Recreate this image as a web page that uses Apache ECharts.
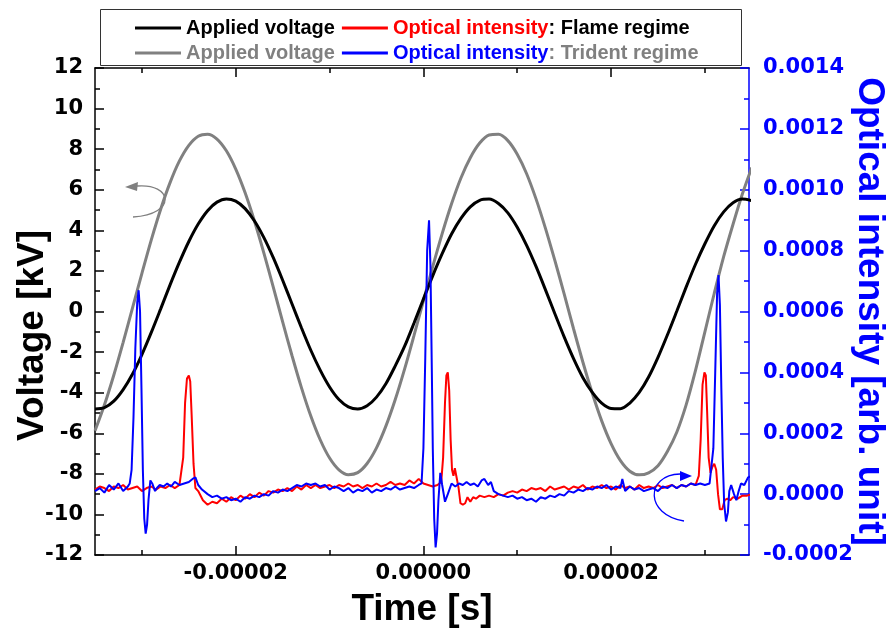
<!DOCTYPE html>
<html>
<head>
<meta charset="utf-8">
<script src="https://cdn.jsdelivr.net/npm/echarts@6/dist/echarts.min.js"></script>
<style>
  html, body { margin: 0; padding: 0; background: #fff; }
  #chart { width: 891px; height: 633px; }
</style>
</head>
<body>
<div id="chart"></div>
<script>
// time in microseconds, voltage in kV
const timeV = [-35,-34,-33,-32,-31,-30,-29,-28,-27,-26,-25,-24,-23,-22,-21,-20,-19,-18,-17,-16,-15,-14,-13,-12,-11,-10,-9,-8,-7,-6,-5,-4,-3,-2,-1,0,1,2,3,4,5,6,7,8,9,10,11,12,13,14,15,16,17,18,19,20,21,22,23,24,25,26,27,28,29,30,31,32,33,34,35];

const voltFlame = [-4.80,-4.74,-4.42,-3.85,-3.08,-2.12,-1.03,0.13,1.31,2.43,3.45,4.31,4.97,5.39,5.55,
  5.44,5.07,4.46,3.64,2.65,1.54,0.37,-0.80,-1.91,-2.89,-3.72,-4.34,-4.70,-4.81,-4.65,
  -4.22,-3.56,-2.68,-1.71,-0.57,0.61,1.77,2.85,3.82,4.59,5.16,5.48,5.54,5.32,4.86,
  4.15,3.26,2.22,1.08,-0.10,-1.25,-2.32,-3.26,-3.99,-4.52,-4.78,-4.79,-4.51,-3.99,-3.23,
  -2.26,-1.16,0.01,1.20,2.33,3.34,4.23,4.91,5.36,5.54,5.46];

const voltTrident = [-5.88,-4.61,-3.14,-1.52,0.18,1.88,3.53,5.04,6.35,7.42,8.19,8.64,8.74,8.50,7.92,
  7.02,5.85,4.45,2.88,1.20,-0.51,-2.18,-3.75,-5.15,-6.32,-7.22,-7.80,-8.04,-7.94,-7.49,
  -6.72,-5.65,-4.34,-2.83,-1.18,0.52,2.22,3.84,5.31,6.58,7.58,8.30,8.70,8.73,8.42,
  7.75,6.79,5.55,4.11,2.53,0.87,-0.85,-2.50,-4.03,-5.39,-6.51,-7.35,-7.87,-8.05,-7.95,
  -7.6,-6.9,-5.95,-4.6,-2.9,-1.0,0.9,2.7,4.3,5.8,7.1];

// [time us, optical intensity x1e-4]
const optFlame = [[-35,0.15],[-34.5,0.25],[-34,0.2],[-33.5,0.1],[-33,0.25],[-32.5,0.2],[-32,0.3],[-31.5,0.15],[-31,0.2],[-30.5,0.25],[-30,0.1],[-29.5,0.2],[-29,0.25],[-28.5,0.15],[-28,0.25],[-27.5,0.2],[-27,0.3],[-26.5,0.2],[-26,0.3],
  [-25.9,0.3],[-25.6,1.2],[-25.4,3.0],[-25.2,3.8],[-25.0,3.9],[-24.85,3.7],[-24.7,2.6],[-24.5,1.0],[-24.3,0.2],[-24,0.1],[-23.5,-0.2],[-23,-0.35],[-22.5,-0.25],[-22,-0.3],[-21.5,-0.15],[-21,-0.25],[-20.5,-0.1],[-20,-0.2],[-19.5,-0.05],[-19,-0.15],[-18.5,0],[-18,-0.1],[-17.5,0.05],[-17,-0.05],[-16.5,0.1],[-16,0.05],[-15.5,0.15],[-15,0.1],[-14.5,0.2],[-14,0.1],[-13.5,0.25],[-13,0.15],[-12.5,0.3],[-12,0.2],[-11.5,0.3],[-11,0.2],[-10.5,0.25],[-10,0.3],[-9.5,0.2],[-9,0.3],[-8.5,0.25],[-8,0.35],[-7.5,0.25],[-7,0.3],[-6.5,0.2],[-6,0.3],[-5.5,0.25],[-5,0.35],[-4.5,0.25],[-4,0.3],[-3.5,0.4],[-3,0.3],[-2.5,0.35],[-2,0.3],[-1.5,0.45],[-1,0.35],[-0.5,0.5],[0,0.35],[0.5,0.3],[1,0.25],[1.5,0.3],[1.9,0.4],
  [2.1,1.2],[2.3,3.0],[2.45,3.9],[2.6,4.0],[2.75,3.4],[2.9,1.8],[3.05,0.8],[3.2,0.6],[3.35,0.85],[3.55,0.8],[3.75,0.2],[3.95,-0.3],[4.2,-0.35],[4.45,-0.3],[4.7,-0.1],[5,-0.25],[5.3,-0.1],[5.6,-0.15],[6,-0.05],[6.5,-0.1],[7,-0.05],[7.5,-0.1],[8,0],[8.5,-0.05],[9,0.05],[9.5,0.1],[10,0.05],[10.5,0.15],[11,0.1],[11.5,0.2],[12,0.15],[12.5,0.2],[13,0.1],[13.5,0.25],[14,0.15],[14.5,0.2],[15,0.25],[15.5,0.15],[16,0.25],[16.5,0.2],[17,0.3],[17.5,0.15],[18,0.25],[18.5,0.2],[19,0.3],[19.5,0.2],[20,0.25],[20.5,0.15],[21,0.3],[21.5,0.2],[22,0.25],[22.5,0.15],[23,0.3],[23.5,0.2],[24,0.25],[24.5,0.2],[25,0.3],[25.5,0.2],[26,0.25],[26.5,0.3],[27,0.2],[27.5,0.3],[28,0.25],[28.5,0.35],[29,0.3],
  [29.35,0.6],[29.55,1.8],[29.75,3.6],[29.95,4.0],[30.1,3.9],[30.25,2.6],[30.4,1.2],[30.6,0.7],[30.8,0.9],[31,1.0],[31.2,0.8],[31.4,0],[31.6,-0.5],[31.85,-0.5],[32.1,-0.2],[32.4,-0.15],[32.7,-0.2],[33,-0.1],[33.5,-0.15],[34,-0.05],[34.5,-0.05],[35,0]];

const optTrident = [[-35,0.1],[-34.5,0.2],[-34,0.05],[-33.5,0.3],[-33,0.15],[-32.5,0.35],[-32,0.1],[-31.5,0.25],[-31.3,0.35],
  [-31.1,0.8],[-30.9,2.5],[-30.7,4.8],[-30.5,6.3],[-30.35,6.7],[-30.2,6.0],[-30.05,3.5],[-29.9,0.8],[-29.75,-0.8],[-29.6,-1.3],[-29.45,-1.0],[-29.3,-0.2],[-29.1,0.45],[-28.9,0.35],[-28.6,0.1],[-28.4,0.2],[-28.1,0.3],[-27.7,0.25],[-27.3,0.35],[-26.9,0.25],[-26.5,0.4],[-26,0.3],[-25.5,0.35],[-25,0.4],[-24.6,0.5],[-24.3,0.55],[-24,0.3],[-23.6,0.15],[-23,0],[-22.5,-0.1],[-22,-0.05],[-21.5,-0.15],[-21,-0.1],[-20.5,-0.2],[-20,-0.15],[-19.5,-0.25],[-19,-0.1],[-18.5,-0.15],[-18,-0.05],[-17.5,-0.1],[-17,0],[-16.5,-0.05],[-16,0.1],[-15.5,0.05],[-15,0.15],[-14.5,0.1],[-14,0.2],[-13.5,0.3],[-13,0.25],[-12.5,0.35],[-12,0.3],[-11.5,0.35],[-11,0.25],[-10.5,0.3],[-10,0.15],[-9.5,0.25],[-9,0.2],[-8.5,0.1],[-8,0.2],[-7.5,0.05],[-7,0.15],[-6.5,0.1],[-6,0.2],[-5.5,0.05],[-5,0.15],[-4.5,0.1],[-4,0.2],[-3.5,0.15],[-3,0.25],[-2.5,0.15],[-2,0.2],[-1.5,0.25],[-1,0.2],[-0.5,0.3],[-0.2,0.35],
  [0,1.5],[0.2,4.5],[0.4,8.0],[0.6,9.0],[0.75,7.5],[0.9,4.0],[1,1.5],[1.15,-0.8],[1.3,-1.75],[1.45,-1.3],[1.6,-0.2],[1.8,0.7],[2,0.3],[2.3,-0.25],[2.6,0],[3,0.35],[3.4,0.25],[3.8,0.35],[4.2,0.3],[4.6,0.4],[5,0.3],[5.4,0.35],[5.8,0.25],[6.2,0.45],[6.5,0.5],[6.9,0.3],[7.2,0.4],[7.5,0.1],[8,0],[8.5,-0.05],[9,-0.1],[9.5,-0.05],[10,-0.15],[10.5,-0.1],[11,-0.2],[11.5,-0.15],[12,-0.25],[12.5,-0.1],[13,-0.15],[13.5,-0.05],[14,-0.1],[14.5,0],[15,-0.05],[15.5,0.1],[16,0.05],[16.5,0.15],[17,0.1],[17.5,0.2],[18,0.15],[18.5,0.25],[19,0.2],[19.5,0.3],[20,0.15],[20.5,0.25],[21,0.2],[21.2,0.5],[21.5,0.1],[22,0.25],[22.5,0.15],[23,0.2],[23.5,0.1],[24,0.15],[24.5,0.2],[25,0.1],[25.5,0.25],[26,0.2],[26.5,0.3],[27,0.2],[27.5,0.3],[28,0.25],[28.5,0.35],[29,0.3],[29.5,0.35],[30,0.3],[30.5,0.35],[30.7,0.4],
  [30.9,1.5],[31.1,4.0],[31.3,6.6],[31.45,7.2],[31.6,6.2],[31.75,3.5],[31.9,1.2],[32.05,-0.3],[32.25,-0.9],[32.45,-0.6],[32.6,0.1],[32.8,0.3],[33.1,0],[33.35,-0.2],[33.6,0.1],[33.85,0.35],[34.2,0.3],[34.6,0.55],[35,0.6]];

const xMajorTicks = [-0.00002, 0, 0.00002];
const xMinorTicks = [-0.00003, -0.00001, 0.00001, 0.00003];

const legendText = {
    'Applied voltage (flame)': '{k|Applied voltage}',
    'Optical intensity (flame)': '{r|Optical intensity}{k|: Flame regime}',
    'Applied voltage (trident)': '{g|Applied voltage}',
    'Optical intensity (trident)': '{b|Optical intensity}{g|: Trident regime}'
};

const TICK_FONT = 'DejaVu Sans';
const TITLE_FONT = 'Liberation Sans';

document.addEventListener("DOMContentLoaded", function () {
    var myChart = echarts.init(document.getElementById('chart'), null, { renderer: 'canvas' });

    var voltFlameData = timeV.map((t, i) => [t * 1e-6, voltFlame[i]]);
    var voltTridentData = timeV.map((t, i) => [t * 1e-6, voltTrident[i]]);
    var optFlameData = optFlame.map(p => [p[0] * 1e-6, p[1] * 1e-4]);
    var optTridentData = optTrident.map(p => [p[0] * 1e-6, p[1] * 1e-4]);

    var richStyle = {
        k: { color: '#000000', fontWeight: 'bold', fontSize: 20, fontFamily: TITLE_FONT },
        r: { color: '#ff0000', fontWeight: 'bold', fontSize: 20, fontFamily: TITLE_FONT },
        g: { color: '#808080', fontWeight: 'bold', fontSize: 20, fontFamily: TITLE_FONT },
        b: { color: '#0000ff', fontWeight: 'bold', fontSize: 20, fontFamily: TITLE_FONT }
    };

    function legendBase(names, top) {
        return {
            data: names,
            left: 130,
            top: top,
            orient: 'horizontal',
            icon: 'rect',
            itemWidth: 46,
            itemHeight: 3,
            itemGap: 7,
            selectedMode: false,
            formatter: name => legendText[name],
            textStyle: { fontFamily: TITLE_FONT, fontWeight: 'bold', fontSize: 20, rich: richStyle }
        };
    }

    function xAxisBase(pos, ticks, len, showLine) {
        return {
            type: 'value',
            position: pos,
            min: -0.000035,
            max: 0.0000347,
            axisLine: { show: showLine, onZero: false, lineStyle: { color: '#000', width: 1.5 } },
            axisTick: { show: true, inside: true, length: len, customValues: ticks, lineStyle: { color: '#000', width: 1.5 } },
            axisLabel: { show: false },
            splitLine: { show: false }
        };
    }

    var xMain = xAxisBase('bottom', xMajorTicks, 9, true);
    xMain.axisLabel = {
        show: true,
        customValues: xMajorTicks,
        formatter: v => v.toFixed(5),
        fontFamily: TICK_FONT, fontWeight: 'bold', fontSize: 21, color: '#000', margin: 8
    };
    xMain.name = 'Time [s]';
    xMain.nameLocation = 'middle';
    xMain.nameGap = 36;
    xMain.nameMoveOverlap = false;
    xMain.nameTextStyle = { fontFamily: TITLE_FONT, fontWeight: 'bold', fontSize: 37, color: '#000' };

    var option = {
        animation: false,
        backgroundColor: '#ffffff',
        grid: { left: 95, right: 142, top: 68, bottom: 78, outerBoundsMode: 'none' },
        legend: [
            legendBase(['Applied voltage (flame)', 'Optical intensity (flame)'], 13),
            legendBase(['Applied voltage (trident)', 'Optical intensity (trident)'], 38)
        ],
        xAxis: [
            xMain,
            xAxisBase('bottom', xMinorTicks, 5, false),
            xAxisBase('top', xMajorTicks, 9, true),
            xAxisBase('top', xMinorTicks, 5, false)
        ],
        yAxis: [
            {
                type: 'value',
                position: 'left',
                min: -12, max: 12, interval: 2,
                axisLine: { show: true, onZero: false, lineStyle: { color: '#000', width: 1.5 } },
                axisTick: { inside: true, length: 9, lineStyle: { color: '#000', width: 1.5 } },
                minorTick: { show: true, splitNumber: 2, length: 5, lineStyle: { color: '#000', width: 1.5 } },
                axisLabel: { fontFamily: TICK_FONT, fontWeight: 'bold', fontSize: 21, color: '#000', margin: 12 },
                splitLine: { show: false },
                name: 'Voltage [kV]',
                nameLocation: 'middle',
                nameGap: 44,
                nameMoveOverlap: false,
                nameTextStyle: { fontFamily: TITLE_FONT, fontWeight: 'bold', fontSize: 37, color: '#000', padding: [0, 48, 0, 0] }
            },
            {
                type: 'value',
                position: 'right',
                min: -0.0002, max: 0.0014, interval: 0.0002,
                axisLine: { show: true, onZero: false, lineStyle: { color: '#0000ff', width: 1.5 } },
                axisTick: { inside: true, length: 9, lineStyle: { color: '#0000ff', width: 1.5 } },
                minorTick: { show: true, splitNumber: 2, length: 5, lineStyle: { color: '#0000ff', width: 1.5 } },
                axisLabel: {
                    formatter: v => v.toFixed(4),
                    fontFamily: TICK_FONT, fontWeight: 'bold', fontSize: 21, color: '#0000ff', margin: 14
                },
                splitLine: { show: false },
                name: 'Optical intensity [arb. unit]',
                nameLocation: 'middle',
                nameRotate: -90,
                nameGap: 102,
                nameMoveOverlap: false,
                nameTextStyle: { fontFamily: TITLE_FONT, fontWeight: 'bold', fontSize: 37, color: '#0000ff' }
            }
        ],
        series: [
            {
                name: 'Applied voltage (trident)', type: 'line', xAxisIndex: 0, yAxisIndex: 0,
                data: voltTridentData, showSymbol: false, smooth: 0.3,
                lineStyle: { color: '#808080', width: 3 }, itemStyle: { color: '#808080' }
            },
            {
                name: 'Applied voltage (flame)', type: 'line', xAxisIndex: 0, yAxisIndex: 0,
                data: voltFlameData, showSymbol: false, smooth: 0.3,
                lineStyle: { color: '#000000', width: 3 }, itemStyle: { color: '#000000' }
            },
            {
                name: 'Optical intensity (flame)', type: 'line', xAxisIndex: 0, yAxisIndex: 1,
                data: optFlameData, showSymbol: false,
                lineStyle: { color: '#ff0000', width: 2 }, itemStyle: { color: '#ff0000' }
            },
            {
                name: 'Optical intensity (trident)', type: 'line', xAxisIndex: 0, yAxisIndex: 1,
                data: optTridentData, showSymbol: false,
                lineStyle: { color: '#0000ff', width: 2 }, itemStyle: { color: '#0000ff' }
            }
        ],
        graphic: [
            // legend frame
            { type: 'rect', shape: { x: 100.5, y: 9.5, width: 641, height: 56 }, style: { fill: 'none', stroke: '#333', lineWidth: 1 }, z: 100 },
            // arrow pointing to the voltage axis
            { type: 'bezierCurve', shape: { x1: 137, y1: 186, cpx1: 172, cpy1: 183, cpx2: 178, cpy2: 214, x2: 133, y2: 217 }, style: { fill: 'none', stroke: '#808080', lineWidth: 1.3 }, z: 100 },
            { type: 'polygon', shape: { points: [[125, 187], [138, 182], [137, 191]] }, style: { fill: '#808080' }, z: 100 },
            // arrow pointing to the optical axis
            { type: 'bezierCurve', shape: { x1: 680, y1: 474, cpx1: 645, cpy1: 475, cpx2: 645, cpy2: 515, x2: 684, y2: 521 }, style: { fill: 'none', stroke: '#0000ff', lineWidth: 1.3 }, z: 100 },
            { type: 'polygon', shape: { points: [[692, 476], [680, 471], [680, 481]] }, style: { fill: '#0000ff' }, z: 100 }
        ]
    };

    myChart.setOption(option);
    window.addEventListener("resize", function () {
        myChart.resize();
    });
});
</script>
</body>
</html>
